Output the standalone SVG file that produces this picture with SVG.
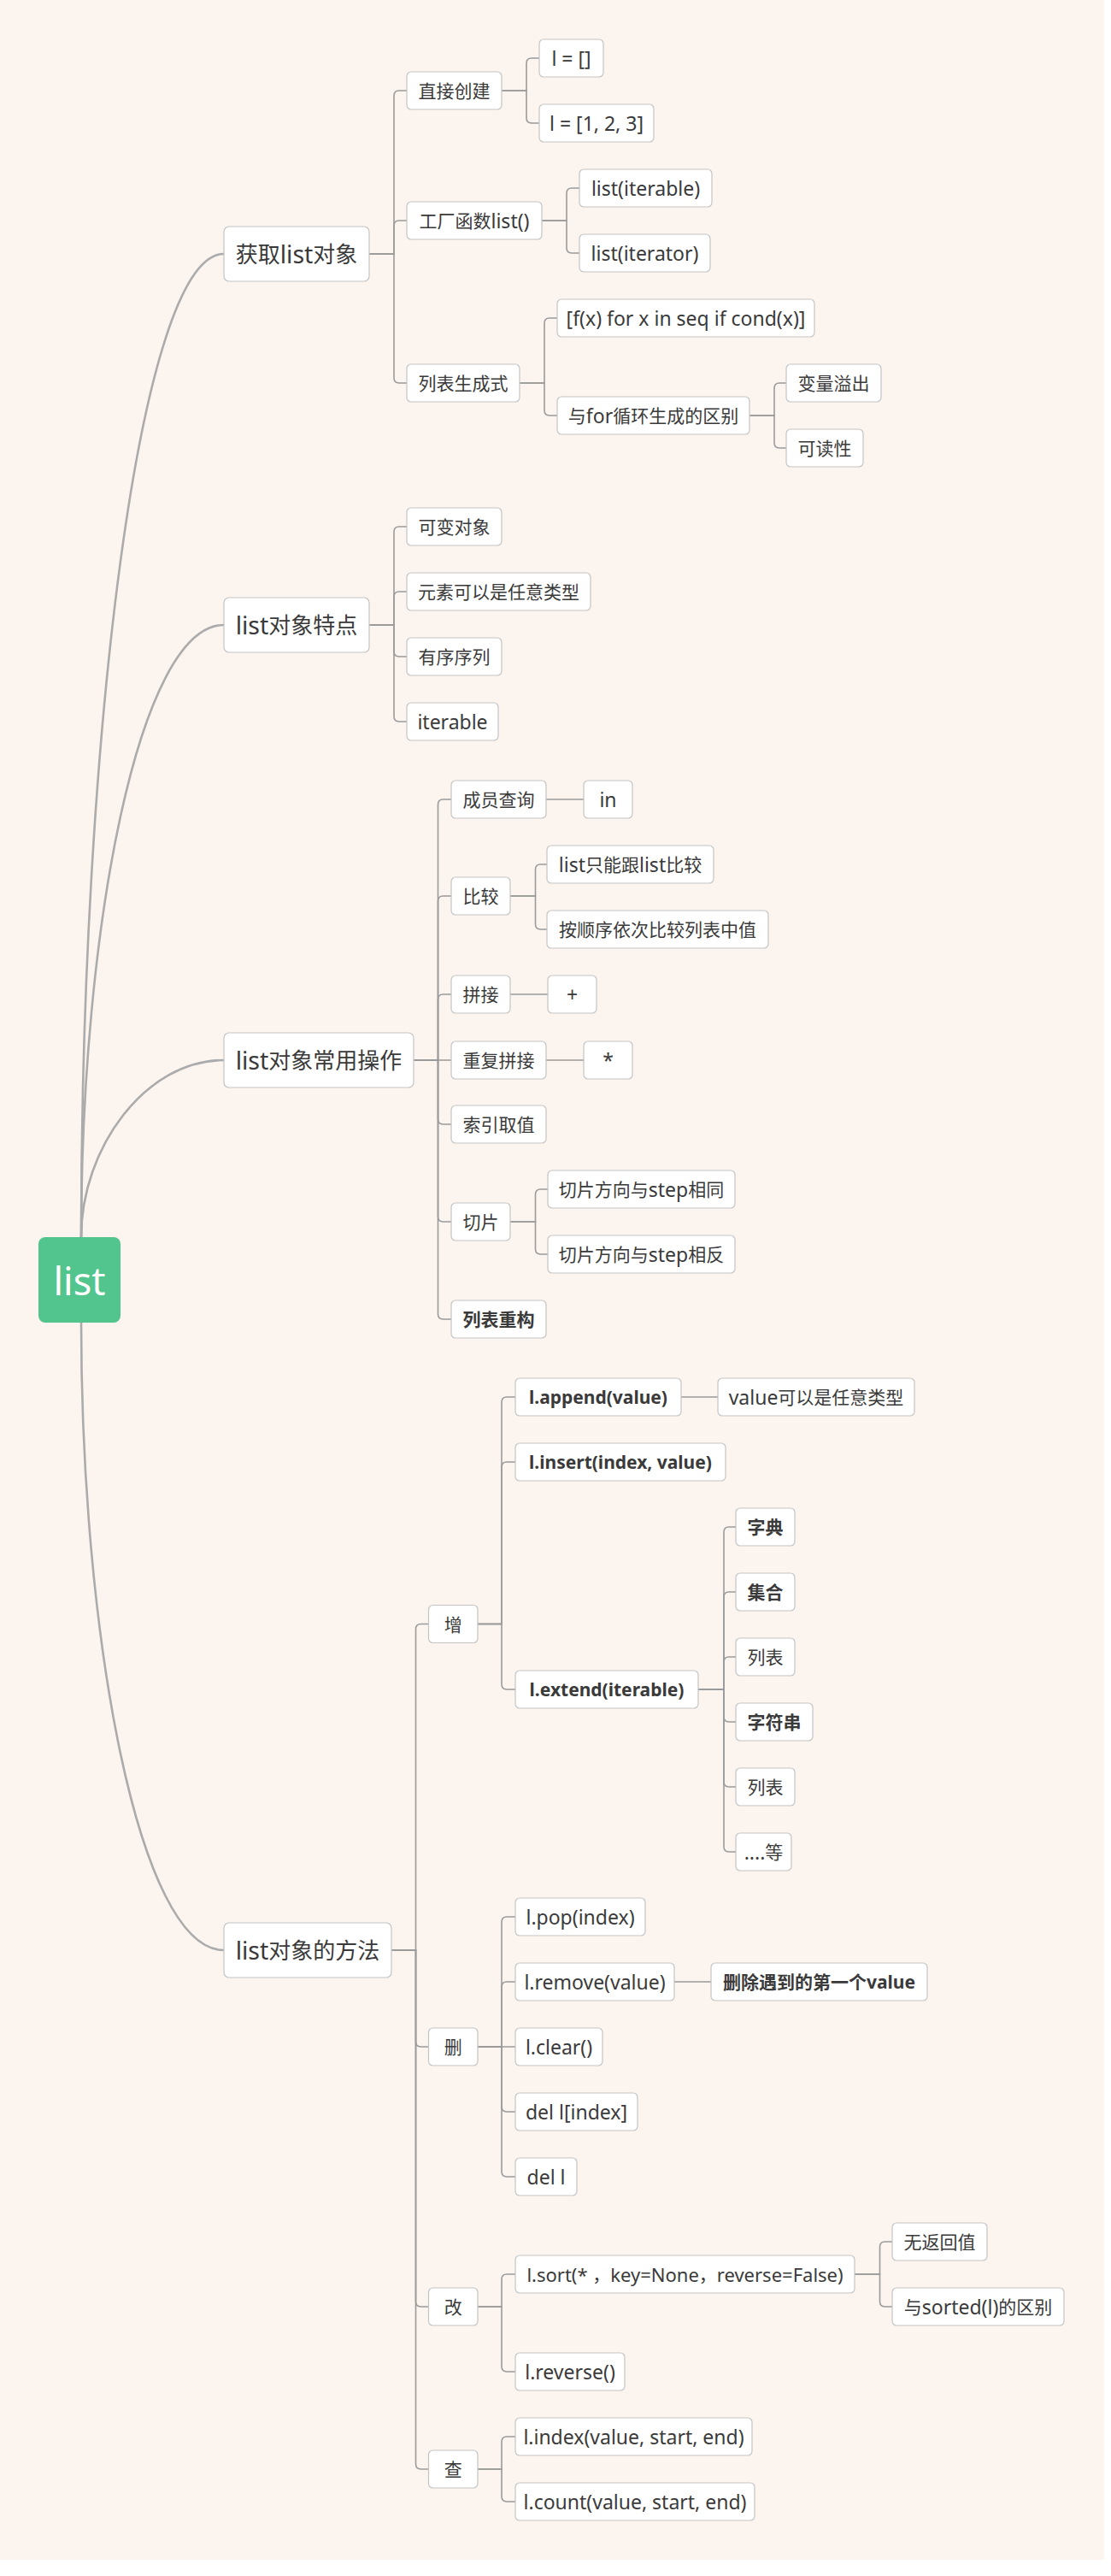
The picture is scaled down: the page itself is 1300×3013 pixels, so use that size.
<svg xmlns="http://www.w3.org/2000/svg" width="1300" height="3013" viewBox="0 0 1300 3013">
<style>
.n rect{fill:#ffffff;stroke:#c4c4c4;stroke-width:1.2}
.n text{font-family:"Noto Sans","Noto Sans CJK SC",sans-serif;font-size:23px;fill:#3a3a3a;text-anchor:middle;dominant-baseline:central}
.n text.b{font-weight:bold;font-size:21px}
.n text.s{font-size:22px}
.n text.z,.n tspan.z{font-size:21px}
.l1 text{font-size:28.5px}
.l1 tspan.z{font-size:26px}
.e path{fill:none;stroke:#9b9b9b;stroke-width:1.6}
.c path{fill:none;stroke:#ababab;stroke-width:2.6}
</style>
<rect x="0" y="0" width="1300" height="3013" fill="#ffffff"/>
<rect x="0" y="0" width="1292" height="2994" fill="#fcf4ef"/>

<g id="connectors">
<g class="c">
<path d="M95,1447 C95,872 162,297 262,297"/>
<path d="M95,1447 C95,1089 162,731 262,731"/>
<path d="M95,1447 C95,1343 170,1240 262,1240"/>
<path d="M95,1546 C95,1913 162,2281 262,2281"/>
</g>
<g class="e">
<path d="M432,297 H461 V112 Q461,106 467,106 H476"/>
<path d="M432,297 H461 V264 Q461,258 467,258 H476"/>
<path d="M432,297 H461 V442 Q461,448 467,448 H476"/>
<path d="M587,106 H616 V74 Q616,68 622,68 H631"/>
<path d="M587,106 H616 V138 Q616,144 622,144 H631"/>
<path d="M634,258 H663 V226 Q663,220 669,220 H678"/>
<path d="M634,258 H663 V290 Q663,296 669,296 H678"/>
<path d="M608,448 H637 V378 Q637,372 643,372 H652"/>
<path d="M608,448 H637 V480 Q637,486 643,486 H652"/>
<path d="M877,486 H906 V454 Q906,448 912,448 H920"/>
<path d="M877,486 H906 V518 Q906,524 912,524 H920"/>

<path d="M432,731 H461 V622 Q461,616 467,616 H476"/>
<path d="M432,731 H461 V698 Q461,692 467,692 H476"/>
<path d="M432,731 H461 V762 Q461,768 467,768 H476"/>
<path d="M432,731 H461 V838 Q461,844 467,844 H476"/>

<path d="M484,1240 H512.5 V941 Q512.5,935 518.5,935 H528"/>
<path d="M484,1240 H512.5 V1054 Q512.5,1048 518.5,1048 H528"/>
<path d="M484,1240 H512.5 V1169 Q512.5,1163 518.5,1163 H528"/>
<path d="M484,1240 H528"/>
<path d="M484,1240 H512.5 V1309 Q512.5,1315 518.5,1315 H528"/>
<path d="M484,1240 H512.5 V1423 Q512.5,1429 518.5,1429 H528"/>
<path d="M484,1240 H512.5 V1537 Q512.5,1543 518.5,1543 H528"/>
<path d="M639,935 H683"/>
<path d="M597,1048 H626.5 V1017 Q626.5,1011 632.5,1011 H640"/>
<path d="M597,1048 H626.5 V1081 Q626.5,1087 632.5,1087 H640"/>
<path d="M597,1163 H641"/>
<path d="M639,1240 H683"/>
<path d="M597,1429 H626.5 V1397 Q626.5,1391 632.5,1391 H641"/>
<path d="M597,1429 H626.5 V1461 Q626.5,1467 632.5,1467 H641"/>

<path d="M458,2281 H486.5 V1905.5 Q486.5,1899.5 492.5,1899.5 H501.5"/>
<path d="M458,2281 H486.5 V2388 Q486.5,2394 492.5,2394 H501.5"/>
<path d="M458,2281 H486.5 V2692 Q486.5,2698 492.5,2698 H501.5"/>
<path d="M458,2281 H486.5 V2882 Q486.5,2888 492.5,2888 H501.5"/>

<path d="M559,1899.5 H587 V1640 Q587,1634 593,1634 H603"/>
<path d="M559,1899.5 H587 V1716 Q587,1710 593,1710 H603"/>
<path d="M559,1899.5 H587 V1970 Q587,1976 593,1976 H603"/>
<path d="M797,1634 H840"/>
<path d="M817,1976 H847 V1792 Q847,1786 853,1786 H861"/>
<path d="M817,1976 H847 V1868 Q847,1862 853,1862 H861"/>
<path d="M817,1976 H847 V1944 Q847,1938 853,1938 H861"/>
<path d="M817,1976 H847 V2008 Q847,2014 853,2014 H861"/>
<path d="M817,1976 H847 V2084 Q847,2090 853,2090 H861"/>
<path d="M817,1976 H847 V2160 Q847,2166 853,2166 H861"/>

<path d="M559,2394 H587 V2248 Q587,2242 593,2242 H603"/>
<path d="M559,2394 H587 V2324 Q587,2318 593,2318 H603"/>
<path d="M559,2394 H603"/>
<path d="M559,2394 H587 V2464 Q587,2470 593,2470 H603"/>
<path d="M559,2394 H587 V2540 Q587,2546 593,2546 H603"/>
<path d="M789,2318 H832"/>

<path d="M559,2698 H587 V2666 Q587,2660 593,2660 H603"/>
<path d="M559,2698 H587 V2768 Q587,2774 593,2774 H603"/>
<path d="M1000,2660 H1029.5 V2628 Q1029.5,2622 1035.5,2622 H1044"/>
<path d="M1000,2660 H1029.5 V2692 Q1029.5,2698 1035.5,2698 H1044"/>

<path d="M559,2888 H587 V2856 Q587,2850 593,2850 H603"/>
<path d="M559,2888 H587 V2920 Q587,2926 593,2926 H603"/>
</g>
</g>

<g id="root">
<rect x="45" y="1447" width="96" height="100" rx="8" fill="#52c48e"/>
<text x="93" y="1497" font-family="Noto Sans, sans-serif" font-size="45" fill="#ffffff" text-anchor="middle" dominant-baseline="central">list</text>
</g>

<g id="n-get" class="n l1"><rect x="262" y="265" width="170" height="64" rx="6"/><text x="347" y="297"><tspan class="z">获取</tspan>list<tspan class="z">对象</tspan></text></g>
<g id="n-feat" class="n l1"><rect x="262" y="699" width="170" height="64" rx="6"/><text x="347" y="731">list<tspan class="z">对象特点</tspan></text></g>
<g id="n-ops" class="n l1"><rect x="262" y="1208" width="222" height="64" rx="6"/><text x="373" y="1240">list<tspan class="z">对象常用操作</tspan></text></g>
<g id="n-meth" class="n l1"><rect x="262" y="2249" width="196" height="64" rx="6"/><text x="360" y="2281">list<tspan class="z">对象的方法</tspan></text></g>

<g id="n-direct" class="n"><rect x="476" y="84" width="111" height="44" rx="5"/><text class="z" x="531.5" y="106">直接创建</text></g>
<g id="n-empty" class="n"><rect x="631" y="46" width="75" height="44" rx="5"/><text x="668.5" y="68">l = []</text></g>
<g id="n-123" class="n"><rect x="631" y="122" width="134" height="44" rx="5"/><text x="698" y="144">l = [1, 2, 3]</text></g>
<g id="n-factory" class="n"><rect x="476" y="236" width="158" height="44" rx="5"/><text x="555" y="258"><tspan class="z">工厂函数</tspan>list()</text></g>
<g id="n-iterable1" class="n"><rect x="678" y="198" width="155" height="44" rx="5"/><text x="755.5" y="220">list(iterable)</text></g>
<g id="n-iterator" class="n"><rect x="678" y="274" width="153" height="44" rx="5"/><text x="754.5" y="296">list(iterator)</text></g>
<g id="n-comp" class="n"><rect x="476" y="426" width="132" height="44" rx="5"/><text class="z" x="542" y="448">列表生成式</text></g>
<g id="n-compexpr" class="n"><rect x="652" y="350" width="301" height="44" rx="5"/><text x="802.5" y="372">[f(x) for x in seq if cond(x)]</text></g>
<g id="n-diff" class="n"><rect x="652" y="464" width="225" height="44" rx="5"/><text x="764.5" y="486"><tspan class="z">与</tspan>for<tspan class="z">循环生成的区别</tspan></text></g>
<g id="n-leak" class="n"><rect x="920" y="426" width="111" height="44" rx="5"/><text class="z" x="975.5" y="448">变量溢出</text></g>
<g id="n-read" class="n"><rect x="920" y="502" width="90" height="44" rx="5"/><text class="z" x="965" y="524">可读性</text></g>

<g id="n-mutable" class="n"><rect x="476" y="594" width="111" height="44" rx="5"/><text class="z" x="531.5" y="616">可变对象</text></g>
<g id="n-anytype" class="n"><rect x="476" y="670" width="215" height="44" rx="5"/><text class="z" x="583.5" y="692">元素可以是任意类型</text></g>
<g id="n-ordered" class="n"><rect x="476" y="746" width="111" height="44" rx="5"/><text class="z" x="531.5" y="768">有序序列</text></g>
<g id="n-iterable2" class="n"><rect x="476" y="822" width="107" height="44" rx="5"/><text x="529.5" y="844">iterable</text></g>

<g id="n-member" class="n"><rect x="528" y="913" width="111" height="44" rx="5"/><text class="z" x="583.5" y="935">成员查询</text></g>
<g id="n-in" class="n"><rect x="683" y="913" width="57" height="44" rx="5"/><text x="711.5" y="935">in</text></g>
<g id="n-cmp" class="n"><rect x="528" y="1026" width="69" height="44" rx="5"/><text class="z" x="562.5" y="1048">比较</text></g>
<g id="n-cmp1" class="n"><rect x="640" y="989" width="195" height="44" rx="5"/><text x="737.5" y="1011">list<tspan class="z">只能跟</tspan>list<tspan class="z">比较</tspan></text></g>
<g id="n-cmp2" class="n"><rect x="640" y="1065" width="259" height="44" rx="5"/><text class="z" x="769.5" y="1087">按顺序依次比较列表中值</text></g>
<g id="n-concat" class="n"><rect x="528" y="1141" width="69" height="44" rx="5"/><text class="z" x="562.5" y="1163">拼接</text></g>
<g id="n-plus" class="n"><rect x="641" y="1141" width="57" height="44" rx="5"/><text x="669.5" y="1163">+</text></g>
<g id="n-repeat" class="n"><rect x="528" y="1218" width="111" height="44" rx="5"/><text class="z" x="583.5" y="1240">重复拼接</text></g>
<g id="n-star" class="n"><rect x="683" y="1218" width="57" height="44" rx="5"/><text x="711.5" y="1240">*</text></g>
<g id="n-index" class="n"><rect x="528" y="1293" width="111" height="44" rx="5"/><text class="z" x="583.5" y="1315">索引取值</text></g>
<g id="n-slice" class="n"><rect x="528" y="1407" width="69" height="44" rx="5"/><text class="z" x="562.5" y="1429">切片</text></g>
<g id="n-slice1" class="n"><rect x="641" y="1369" width="219" height="44" rx="5"/><text x="750.5" y="1391"><tspan class="z">切片方向与</tspan>step<tspan class="z">相同</tspan></text></g>
<g id="n-slice2" class="n"><rect x="641" y="1445" width="219" height="44" rx="5"/><text x="750.5" y="1467"><tspan class="z">切片方向与</tspan>step<tspan class="z">相反</tspan></text></g>
<g id="n-rebuild" class="n"><rect x="528" y="1521" width="111" height="44" rx="5"/><text class="z b" x="583.5" y="1543">列表重构</text></g>

<g id="n-add" class="n"><rect x="501.5" y="1877.5" width="57.5" height="44" rx="5"/><text class="z" x="530.25" y="1899.5">增</text></g>
<g id="n-append" class="n"><rect x="603" y="1612" width="194" height="44" rx="5"/><text class="b" x="700" y="1634">l.append(value)</text></g>
<g id="n-appendnote" class="n"><rect x="840" y="1612" width="230" height="44" rx="5"/><text x="955" y="1634">value<tspan class="z">可以是任意类型</tspan></text></g>
<g id="n-insert" class="n"><rect x="603" y="1688" width="246" height="44" rx="5"/><text class="b" x="726" y="1710">l.insert(index, value)</text></g>
<g id="n-extend" class="n"><rect x="603" y="1954" width="214" height="44" rx="5"/><text class="b" x="710" y="1976">l.extend(iterable)</text></g>
<g id="n-dict" class="n"><rect x="861" y="1764" width="69" height="44" rx="5"/><text class="z b" x="895.5" y="1786">字典</text></g>
<g id="n-set" class="n"><rect x="861" y="1840" width="69" height="44" rx="5"/><text class="z b" x="895.5" y="1862">集合</text></g>
<g id="n-list1" class="n"><rect x="861" y="1916" width="69" height="44" rx="5"/><text class="z" x="895.5" y="1938">列表</text></g>
<g id="n-str" class="n"><rect x="861" y="1992" width="90" height="44" rx="5"/><text class="z b" x="906" y="2014">字符串</text></g>
<g id="n-list2" class="n"><rect x="861" y="2068" width="69" height="44" rx="5"/><text class="z" x="895.5" y="2090">列表</text></g>
<g id="n-etc" class="n"><rect x="861" y="2144" width="65" height="44" rx="5"/><text x="893.5" y="2166">....<tspan class="z">等</tspan></text></g>

<g id="n-del" class="n"><rect x="501.5" y="2372" width="57.5" height="44" rx="5"/><text class="z" x="530.25" y="2394">删</text></g>
<g id="n-pop" class="n"><rect x="603" y="2220" width="152" height="44" rx="5"/><text x="679" y="2242">l.pop(index)</text></g>
<g id="n-remove" class="n"><rect x="603" y="2296" width="186" height="44" rx="5"/><text x="696" y="2318">l.remove(value)</text></g>
<g id="n-removenote" class="n"><rect x="832" y="2296" width="253" height="44" rx="5"/><text class="b" x="958.5" y="2318"><tspan class="z">删除遇到的第一个</tspan>value</text></g>
<g id="n-clear" class="n"><rect x="603" y="2372" width="102" height="44" rx="5"/><text x="654" y="2394">l.clear()</text></g>
<g id="n-delidx" class="n"><rect x="603" y="2448" width="143" height="44" rx="5"/><text x="674.5" y="2470">del l[index]</text></g>
<g id="n-dell" class="n"><rect x="603" y="2524" width="72" height="44" rx="5"/><text x="639" y="2546">del l</text></g>

<g id="n-mod" class="n"><rect x="501.5" y="2676" width="57.5" height="44" rx="5"/><text class="z" x="530.25" y="2698">改</text></g>
<g id="n-sort" class="n"><rect x="603" y="2638" width="397" height="44" rx="5"/><text class="s" x="801.5" y="2660">l.sort(* <tspan class="z">，</tspan>key=None<tspan class="z">，</tspan>reverse=False)</text></g>
<g id="n-noret" class="n"><rect x="1044" y="2600" width="111" height="44" rx="5"/><text class="z" x="1099.5" y="2622">无返回值</text></g>
<g id="n-sorted" class="n"><rect x="1044" y="2676" width="201" height="44" rx="5"/><text x="1144.5" y="2698"><tspan class="z">与</tspan>sorted(l)<tspan class="z">的区别</tspan></text></g>
<g id="n-reverse" class="n"><rect x="603" y="2752" width="128" height="44" rx="5"/><text x="667" y="2774">l.reverse()</text></g>

<g id="n-query" class="n"><rect x="501.5" y="2866" width="57.5" height="44" rx="5"/><text class="z" x="530.25" y="2888">查</text></g>
<g id="n-lindex" class="n"><rect x="603" y="2828" width="277" height="44" rx="5"/><text x="741.5" y="2850">l.index(value, start, end)</text></g>
<g id="n-count" class="n"><rect x="603" y="2904" width="280" height="44" rx="5"/><text x="743" y="2926">l.count(value, start, end)</text></g>
</svg>
